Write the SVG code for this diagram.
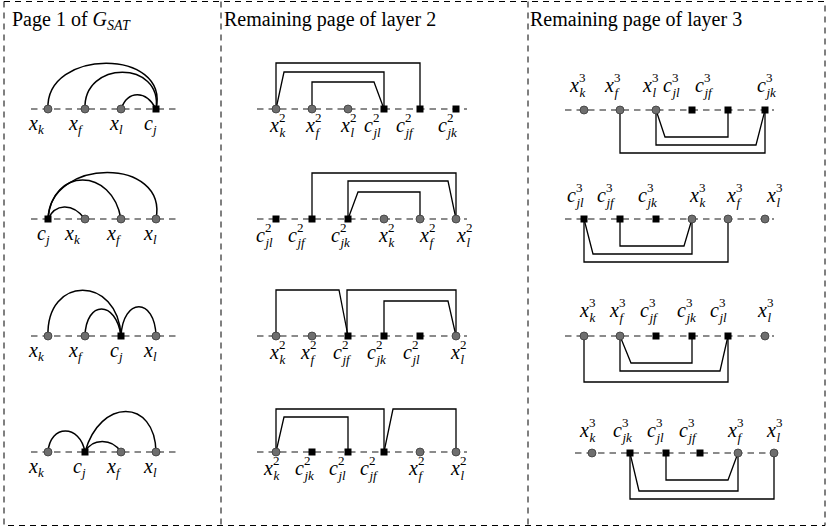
<svg xmlns="http://www.w3.org/2000/svg" width="827" height="532" viewBox="0 0 827 532">
<style>
  .frame{fill:none;stroke:#000;stroke-width:1;stroke-dasharray:6 5}
  .spine{fill:none;stroke:#666;stroke-width:1.3;stroke-dasharray:6.5 5}
  .edge{fill:none;stroke:#000;stroke-width:1.3}
  .arc{fill:none;stroke:#000;stroke-width:1.5}
  .v{fill:#6e6e6e;stroke:#3a3a3a;stroke-width:0.8}
  .c{fill:#000}
  .t{font-family:"Liberation Serif",serif;font-size:20px;fill:#000}
  .m{font-family:"Liberation Serif",serif;font-style:italic;font-size:20px;fill:#000}
  .s{font-style:italic;font-size:13px}
  .d{font-style:normal;font-size:13px}
</style>

<!-- panel frames -->
<g id="frames">
  <rect class="frame" x="4" y="1.5" width="821" height="524"/>
  <line class="frame" x1="221" y1="1.5" x2="221" y2="525.5"/>
  <line class="frame" x1="528" y1="1.5" x2="528" y2="525.5"/>
</g>

<g id="titles">
  <text class="t" x="12" y="26">Page 1 of <tspan font-style="italic">G</tspan><tspan font-style="italic" font-size="14" dy="4">SAT</tspan></text>
  <text class="t" x="224" y="26">Remaining page of layer 2</text>
  <text class="t" x="530" y="26">Remaining page of layer 3</text>
</g>

<!-- dashed spines -->
<g id="spines">
  <line class="spine" x1="31" y1="109" x2="176" y2="109"/>
  <line class="spine" x1="31" y1="219" x2="176" y2="219"/>
  <line class="spine" x1="31" y1="336" x2="176" y2="336"/>
  <line class="spine" x1="31" y1="452" x2="176" y2="452"/>
  <line class="spine" x1="257" y1="109" x2="467" y2="109"/>
  <line class="spine" x1="257" y1="219" x2="467" y2="219"/>
  <line class="spine" x1="257" y1="336" x2="467" y2="336"/>
  <line class="spine" x1="257" y1="452" x2="467" y2="452"/>
  <line class="spine" x1="565" y1="110" x2="774" y2="110"/>
  <line class="spine" x1="565" y1="219" x2="774" y2="219"/>
  <line class="spine" x1="565" y1="336" x2="774" y2="336"/>
  <line class="spine" x1="575" y1="453" x2="782" y2="453"/>
</g>

<!-- connectors -->
<g id="connectors">
  <!-- page 1 -->
  <path class="arc" d="M48,109 C45,48 170,48 156,109"/>
  <path class="arc" d="M85,109 C83,60 163,60 156,109"/>
  <path class="arc" d="M121,109 C128,90 146,90 156,109"/>
  <path class="arc" d="M48,219 C50,157 168,157 156,219"/>
  <path class="arc" d="M48,219 C52,167 112,167 121,219"/>
  <path class="arc" d="M48,219 C55,204 72,202 85,219"/>
  <path class="arc" d="M48,336 C46,275 118,275 121,336"/>
  <path class="arc" d="M85,336 C86,300 116,300 121,336"/>
  <path class="arc" d="M121,336 C123,297 155,297 156,336"/>
  <path class="arc" d="M48,452 C50,424 80,424 85,452"/>
  <path class="arc" d="M85,452 C92,438 112,438 121,452"/>
  <path class="arc" d="M85,452 C100,398 155,398 156,452"/>
  <!-- layer 2 -->
  <path class="edge" d="M276,109 V63 H420 V109"/>
  <path class="edge" d="M276,109 L284,72 H384 V109"/>
  <path class="edge" d="M312,109 V82 H374 L384,109"/>
  <path class="edge" d="M312,219 V173 H456 V219"/>
  <path class="edge" d="M348,219 V181 H448 L456,219"/>
  <path class="edge" d="M348,219 L358,192 H420 V219"/>
  <path class="edge" d="M276,336 V290 H339 L348,336"/>
  <path class="edge" d="M347,336 V290 H456 V336"/>
  <path class="edge" d="M384,336 V301 H448 L456,336"/>
  <path class="edge" d="M276,452 V409 H384 V452"/>
  <path class="edge" d="M276,452 L284,417 H348 V452"/>
  <path class="edge" d="M384,452 L393,409 H456 V452"/>
  <!-- layer 3 -->
  <path class="edge" d="M620,110 V153 H765 V110"/>
  <path class="edge" d="M656,110 V145 H756 L765,110"/>
  <path class="edge" d="M656,110 L665,137 H728 V110"/>
  <path class="edge" d="M620,219 V246 H684 L692,219"/>
  <path class="edge" d="M584,219 L593,254 H692 V219"/>
  <path class="edge" d="M584,219 V262 H728 V219"/>
  <path class="edge" d="M620,336 L631,363 H692 V336"/>
  <path class="edge" d="M620,336 V371 H720 L728,336"/>
  <path class="edge" d="M584,336 V382 H728 V336"/>
  <path class="edge" d="M666,453 V480 H728 L738,453"/>
  <path class="edge" d="M630,453 L639,491 H738 V453"/>
  <path class="edge" d="M630,453 V499 H774 V453"/>
</g>

<!-- page 1 nodes -->
<g id="p1r1-xk"><circle class="v" cx="48" cy="109" r="4"/><text class="m" x="29" y="130">x<tspan class="s" dy="4">k</tspan></text></g>
<g id="p1r1-xf"><circle class="v" cx="85" cy="109" r="4"/><text class="m" x="69" y="130">x<tspan class="s" dy="4">f</tspan></text></g>
<g id="p1r1-xl"><circle class="v" cx="121" cy="109" r="4"/><text class="m" x="110" y="130">x<tspan class="s" dy="4">l</tspan></text></g>
<g id="p1r1-cj"><rect class="c" x="152.5" y="105.5" width="7" height="7"/><text class="m" x="144" y="130">c<tspan class="s" dy="4">j</tspan></text></g>

<g id="p1r2-cj"><rect class="c" x="44.5" y="215.5" width="7" height="7"/><text class="m" x="37" y="240">c<tspan class="s" dy="4">j</tspan></text></g>
<g id="p1r2-xk"><circle class="v" cx="85" cy="219" r="4"/><text class="m" x="65" y="240">x<tspan class="s" dy="4">k</tspan></text></g>
<g id="p1r2-xf"><circle class="v" cx="121" cy="219" r="4"/><text class="m" x="107" y="240">x<tspan class="s" dy="4">f</tspan></text></g>
<g id="p1r2-xl"><circle class="v" cx="156" cy="219" r="4"/><text class="m" x="144" y="240">x<tspan class="s" dy="4">l</tspan></text></g>

<g id="p1r3-xk"><circle class="v" cx="48" cy="336" r="4"/><text class="m" x="29" y="357">x<tspan class="s" dy="4">k</tspan></text></g>
<g id="p1r3-xf"><circle class="v" cx="85" cy="336" r="4"/><text class="m" x="69" y="357">x<tspan class="s" dy="4">f</tspan></text></g>
<g id="p1r3-cj"><rect class="c" x="117.5" y="332.5" width="7" height="7"/><text class="m" x="110" y="357">c<tspan class="s" dy="4">j</tspan></text></g>
<g id="p1r3-xl"><circle class="v" cx="156" cy="336" r="4"/><text class="m" x="144" y="357">x<tspan class="s" dy="4">l</tspan></text></g>

<g id="p1r4-xk"><circle class="v" cx="48" cy="452" r="4"/><text class="m" x="29" y="473">x<tspan class="s" dy="4">k</tspan></text></g>
<g id="p1r4-cj"><rect class="c" x="81.5" y="448.5" width="7" height="7"/><text class="m" x="73" y="473">c<tspan class="s" dy="4">j</tspan></text></g>
<g id="p1r4-xf"><circle class="v" cx="121" cy="452" r="4"/><text class="m" x="107" y="473">x<tspan class="s" dy="4">f</tspan></text></g>
<g id="p1r4-xl"><circle class="v" cx="156" cy="452" r="4"/><text class="m" x="144" y="473">x<tspan class="s" dy="4">l</tspan></text></g>

<!-- layer 2 nodes -->
<g id="p2r1-xk"><circle class="v" cx="276" cy="109" r="4"/><text class="m" x="270" y="132">x<tspan class="d" dy="-10">2</tspan><tspan class="s" x="279.5" dy="15">k</tspan></text></g>
<g id="p2r1-xf"><circle class="v" cx="312" cy="109" r="4"/><text class="m" x="306" y="132">x<tspan class="d" dy="-10">2</tspan><tspan class="s" x="315.5" dy="15">f</tspan></text></g>
<g id="p2r1-xl"><circle class="v" cx="348" cy="109" r="4"/><text class="m" x="341" y="132">x<tspan class="d" dy="-10">2</tspan><tspan class="s" x="350.5" dy="15">l</tspan></text></g>
<g id="p2r1-cjl"><rect class="c" x="380.5" y="105.5" width="7" height="7"/><text class="m" x="364" y="132">c<tspan class="d" dy="-10">2</tspan><tspan class="s" x="373.5" dy="15">jl</tspan></text></g>
<g id="p2r1-cjf"><rect class="c" x="416.5" y="105.5" width="7" height="7"/><text class="m" x="396" y="132">c<tspan class="d" dy="-10">2</tspan><tspan class="s" x="405.5" dy="15">jf</tspan></text></g>
<g id="p2r1-cjk"><rect class="c" x="452.5" y="105.5" width="7" height="7"/><text class="m" x="438" y="132">c<tspan class="d" dy="-10">2</tspan><tspan class="s" x="447.5" dy="15">jk</tspan></text></g>

<g id="p2r2-cjl"><rect class="c" x="272.5" y="215.5" width="7" height="7"/><text class="m" x="256" y="242">c<tspan class="d" dy="-10">2</tspan><tspan class="s" x="265.5" dy="15">jl</tspan></text></g>
<g id="p2r2-cjf"><rect class="c" x="308.5" y="215.5" width="7" height="7"/><text class="m" x="288" y="242">c<tspan class="d" dy="-10">2</tspan><tspan class="s" x="297.5" dy="15">jf</tspan></text></g>
<g id="p2r2-cjk"><rect class="c" x="344.5" y="215.5" width="7" height="7"/><text class="m" x="331" y="242">c<tspan class="d" dy="-10">2</tspan><tspan class="s" x="340.5" dy="15">jk</tspan></text></g>
<g id="p2r2-xk"><circle class="v" cx="384" cy="219" r="4"/><text class="m" x="379" y="242">x<tspan class="d" dy="-10">2</tspan><tspan class="s" x="388.5" dy="15">k</tspan></text></g>
<g id="p2r2-xf"><circle class="v" cx="420" cy="219" r="4"/><text class="m" x="420" y="242">x<tspan class="d" dy="-10">2</tspan><tspan class="s" x="429.5" dy="15">f</tspan></text></g>
<g id="p2r2-xl"><circle class="v" cx="456" cy="219" r="4"/><text class="m" x="457" y="242">x<tspan class="d" dy="-10">2</tspan><tspan class="s" x="466.5" dy="15">l</tspan></text></g>

<g id="p2r3-xk"><circle class="v" cx="276" cy="336" r="4"/><text class="m" x="270" y="359">x<tspan class="d" dy="-10">2</tspan><tspan class="s" x="279.5" dy="15">k</tspan></text></g>
<g id="p2r3-xf"><circle class="v" cx="312" cy="336" r="4"/><text class="m" x="301" y="359">x<tspan class="d" dy="-10">2</tspan><tspan class="s" x="310.5" dy="15">f</tspan></text></g>
<g id="p2r3-cjf"><rect class="c" x="344.5" y="332.5" width="7" height="7"/><text class="m" x="333" y="359">c<tspan class="d" dy="-10">2</tspan><tspan class="s" x="342.5" dy="15">jf</tspan></text></g>
<g id="p2r3-cjk"><rect class="c" x="380.5" y="332.5" width="7" height="7"/><text class="m" x="367" y="359">c<tspan class="d" dy="-10">2</tspan><tspan class="s" x="376.5" dy="15">jk</tspan></text></g>
<g id="p2r3-cjl"><rect class="c" x="416.5" y="332.5" width="7" height="7"/><text class="m" x="403" y="359">c<tspan class="d" dy="-10">2</tspan><tspan class="s" x="412.5" dy="15">jl</tspan></text></g>
<g id="p2r3-xl"><circle class="v" cx="456" cy="336" r="4"/><text class="m" x="451" y="359">x<tspan class="d" dy="-10">2</tspan><tspan class="s" x="460.5" dy="15">l</tspan></text></g>

<g id="p2r4-xk"><circle class="v" cx="276" cy="452" r="4"/><text class="m" x="264" y="475">x<tspan class="d" dy="-10">2</tspan><tspan class="s" x="273.5" dy="15">k</tspan></text></g>
<g id="p2r4-cjk"><rect class="c" x="308.5" y="448.5" width="7" height="7"/><text class="m" x="295" y="475">c<tspan class="d" dy="-10">2</tspan><tspan class="s" x="304.5" dy="15">jk</tspan></text></g>
<g id="p2r4-cjl"><rect class="c" x="344.5" y="448.5" width="7" height="7"/><text class="m" x="329" y="475">c<tspan class="d" dy="-10">2</tspan><tspan class="s" x="338.5" dy="15">jl</tspan></text></g>
<g id="p2r4-cjf"><rect class="c" x="380.5" y="448.5" width="7" height="7"/><text class="m" x="360" y="475">c<tspan class="d" dy="-10">2</tspan><tspan class="s" x="369.5" dy="15">jf</tspan></text></g>
<g id="p2r4-xf"><circle class="v" cx="420" cy="452" r="4"/><text class="m" x="409" y="475">x<tspan class="d" dy="-10">2</tspan><tspan class="s" x="418.5" dy="15">f</tspan></text></g>
<g id="p2r4-xl"><circle class="v" cx="456" cy="452" r="4"/><text class="m" x="451" y="475">x<tspan class="d" dy="-10">2</tspan><tspan class="s" x="460.5" dy="15">l</tspan></text></g>

<!-- layer 3 nodes -->
<g id="p3r1-xk"><circle class="v" cx="584" cy="110" r="4"/><text class="m" x="570" y="92">x<tspan class="d" dy="-10">3</tspan><tspan class="s" x="579.5" dy="15">k</tspan></text></g>
<g id="p3r1-xf"><circle class="v" cx="620" cy="110" r="4"/><text class="m" x="605" y="92">x<tspan class="d" dy="-10">3</tspan><tspan class="s" x="614.5" dy="15">f</tspan></text></g>
<g id="p3r1-xl"><circle class="v" cx="656" cy="110" r="4"/><text class="m" x="643" y="92">x<tspan class="d" dy="-10">3</tspan><tspan class="s" x="652.5" dy="15">l</tspan></text></g>
<g id="p3r1-cjl"><rect class="c" x="688.5" y="106.5" width="7" height="7"/><text class="m" x="663" y="92">c<tspan class="d" dy="-10">3</tspan><tspan class="s" x="672.5" dy="15">jl</tspan></text></g>
<g id="p3r1-cjf"><rect class="c" x="724.5" y="106.5" width="7" height="7"/><text class="m" x="695" y="92">c<tspan class="d" dy="-10">3</tspan><tspan class="s" x="704.5" dy="15">jf</tspan></text></g>
<g id="p3r1-cjk"><rect class="c" x="761.5" y="106.5" width="7" height="7"/><text class="m" x="757" y="92">c<tspan class="d" dy="-10">3</tspan><tspan class="s" x="766.5" dy="15">jk</tspan></text></g>

<g id="p3r2-cjl"><rect class="c" x="580.5" y="215.5" width="7" height="7"/><text class="m" x="567" y="202">c<tspan class="d" dy="-10">3</tspan><tspan class="s" x="576.5" dy="15">jl</tspan></text></g>
<g id="p3r2-cjf"><rect class="c" x="616.5" y="215.5" width="7" height="7"/><text class="m" x="597" y="202">c<tspan class="d" dy="-10">3</tspan><tspan class="s" x="606.5" dy="15">jf</tspan></text></g>
<g id="p3r2-cjk"><rect class="c" x="652.5" y="215.5" width="7" height="7"/><text class="m" x="638" y="202">c<tspan class="d" dy="-10">3</tspan><tspan class="s" x="647.5" dy="15">jk</tspan></text></g>
<g id="p3r2-xk"><circle class="v" cx="692" cy="219" r="4"/><text class="m" x="690" y="202">x<tspan class="d" dy="-10">3</tspan><tspan class="s" x="699.5" dy="15">k</tspan></text></g>
<g id="p3r2-xf"><circle class="v" cx="728" cy="219" r="4"/><text class="m" x="727" y="202">x<tspan class="d" dy="-10">3</tspan><tspan class="s" x="736.5" dy="15">f</tspan></text></g>
<g id="p3r2-xl"><circle class="v" cx="765" cy="219" r="4"/><text class="m" x="767" y="202">x<tspan class="d" dy="-10">3</tspan><tspan class="s" x="776.5" dy="15">l</tspan></text></g>

<g id="p3r3-xk"><circle class="v" cx="584" cy="336" r="4"/><text class="m" x="580" y="317">x<tspan class="d" dy="-10">3</tspan><tspan class="s" x="589.5" dy="15">k</tspan></text></g>
<g id="p3r3-xf"><circle class="v" cx="620" cy="336" r="4"/><text class="m" x="610" y="317">x<tspan class="d" dy="-10">3</tspan><tspan class="s" x="619.5" dy="15">f</tspan></text></g>
<g id="p3r3-cjf"><rect class="c" x="652.5" y="332.5" width="7" height="7"/><text class="m" x="640" y="317">c<tspan class="d" dy="-10">3</tspan><tspan class="s" x="649.5" dy="15">jf</tspan></text></g>
<g id="p3r3-cjk"><rect class="c" x="688.5" y="332.5" width="7" height="7"/><text class="m" x="677" y="317">c<tspan class="d" dy="-10">3</tspan><tspan class="s" x="686.5" dy="15">jk</tspan></text></g>
<g id="p3r3-cjl"><rect class="c" x="724.5" y="332.5" width="7" height="7"/><text class="m" x="710" y="317">c<tspan class="d" dy="-10">3</tspan><tspan class="s" x="719.5" dy="15">jl</tspan></text></g>
<g id="p3r3-xl"><circle class="v" cx="765" cy="336" r="4"/><text class="m" x="758" y="317">x<tspan class="d" dy="-10">3</tspan><tspan class="s" x="767.5" dy="15">l</tspan></text></g>

<g id="p3r4-xk"><circle class="v" cx="592" cy="453" r="4"/><text class="m" x="580" y="437">x<tspan class="d" dy="-10">3</tspan><tspan class="s" x="589.5" dy="15">k</tspan></text></g>
<g id="p3r4-cjk"><rect class="c" x="626.5" y="449.5" width="7" height="7"/><text class="m" x="613" y="437">c<tspan class="d" dy="-10">3</tspan><tspan class="s" x="622.5" dy="15">jk</tspan></text></g>
<g id="p3r4-cjl"><rect class="c" x="662.5" y="449.5" width="7" height="7"/><text class="m" x="647" y="437">c<tspan class="d" dy="-10">3</tspan><tspan class="s" x="656.5" dy="15">jl</tspan></text></g>
<g id="p3r4-cjf"><rect class="c" x="696.5" y="449.5" width="7" height="7"/><text class="m" x="679" y="437">c<tspan class="d" dy="-10">3</tspan><tspan class="s" x="688.5" dy="15">jf</tspan></text></g>
<g id="p3r4-xf"><circle class="v" cx="738" cy="453" r="4"/><text class="m" x="728" y="437">x<tspan class="d" dy="-10">3</tspan><tspan class="s" x="737.5" dy="15">f</tspan></text></g>
<g id="p3r4-xl"><circle class="v" cx="774" cy="453" r="4"/><text class="m" x="767" y="437">x<tspan class="d" dy="-10">3</tspan><tspan class="s" x="776.5" dy="15">l</tspan></text></g>
</svg>
